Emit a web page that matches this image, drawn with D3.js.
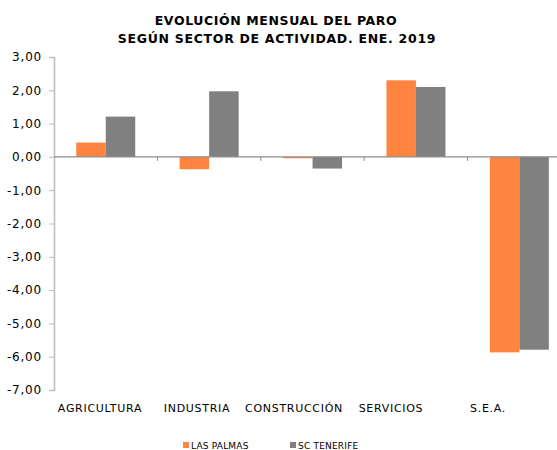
<!DOCTYPE html>
<html>
<head>
<meta charset="utf-8">
<script src="https://cdn.jsdelivr.net/npm/d3@7"></script>
<style>
  body { margin: 0; background: #fff; }
  svg text { font-family: "DejaVu Sans", Verdana, sans-serif; fill: #000; }
</style>
</head>
<body>
<svg id="chart" width="557" height="450"></svg>
<script>
const categories = ['AGRICULTURA', 'INDUSTRIA', 'CONSTRUCCIÓN', 'SERVICIOS', 'S.E.A.'];
const series = ['LAS PALMAS', 'SC TENERIFE'];
const lasPalmas = [0.43, -0.37, -0.04, 2.30, -5.87];
const scTenerife = [1.21, 1.97, -0.35, 2.10, -5.79];
const yTicks = [3, 2, 1, 0, -1, -2, -3, -4, -5, -6, -7];
const colors = ['#ff8440', '#808080'];

const values = [lasPalmas, scTenerife];
const svg = d3.select('svg#chart');

const locale = d3.formatLocale({decimal: ',', thousands: '.', grouping: [3], currency: ['', '€'], minus: '-'});
const fmt = locale.format('.2f');

const y = d3.scaleLinear()
    .domain([-7, 3])
    .range([390, 57]);

const x = d3.scaleBand()
    .domain(categories)
    .range([54, 571]);

const x1 = d3.scaleBand()
    .domain(series)
    .range([22.25, 81.25]);

// labels in the reference sit on a slightly tighter pitch than the bands
const xLabel = d3.scalePoint()
    .domain(categories)
    .range([100, 488]);

// title
svg.append('text')
    .attr('x', 276)
    .attr('y', 25)
    .attr('text-anchor', 'middle')
    .style('font-size', '12.5px')
    .style('font-weight', 'bold')
    .style('letter-spacing', '0.6px')
    .text('EVOLUCIÓN MENSUAL DEL PARO');
svg.append('text')
    .attr('x', 277)
    .attr('y', 43)
    .attr('text-anchor', 'middle')
    .style('font-size', '12.5px')
    .style('font-weight', 'bold')
    .style('letter-spacing', '0.7px')
    .text('SEGÚN SECTOR DE ACTIVIDAD. ENE. 2019');

// y axis
const yAxis = svg.append('g')
    .attr('transform', 'translate(54,0)')
    .call(d3.axisLeft(y)
        .tickValues(yTicks)
        .tickFormat(fmt)
        .tickSize(5)
        .tickPadding(7));
yAxis.select('.domain').attr('stroke', '#bdbdbd').attr('stroke-width', 1.5);
yAxis.selectAll('.tick line').attr('stroke', '#bdbdbd');
yAxis.selectAll('.tick text')
    .style('font-size', '12px')
    .style('letter-spacing', '0.8px')
    .style('font-family', '"DejaVu Sans", Verdana, sans-serif')
    .attr('fill', '#000');

// bars
const g = svg.append('g');
categories.forEach((c, i) => {
    series.forEach((s, j) => {
        const v = values[j][i];
        g.append('rect')
            .attr('x', x(c) + x1(s))
            .attr('y', y(Math.max(0, v)))
            .attr('width', x1.bandwidth())
            .attr('height', Math.abs(y(v) - y(0)))
            .attr('fill', colors[j]);
    });
});

// zero line with category tick marks
svg.append('line')
    .attr('x1', 54).attr('x2', 557)
    .attr('y1', y(0)).attr('y2', y(0))
    .attr('stroke', '#8c8c8c')
    .attr('stroke-width', 1.2);
svg.append('g')
    .selectAll('line')
    .data(categories.slice(1))
    .join('line')
    .attr('x1', d => x(d)).attr('x2', d => x(d))
    .attr('y1', y(0)).attr('y2', y(0) + 4)
    .attr('stroke', '#8c8c8c');

// category labels
svg.append('g')
    .selectAll('text')
    .data(categories)
    .join('text')
    .attr('x', d => xLabel(d))
    .attr('y', 412)
    .attr('text-anchor', 'middle')
    .style('font-size', '11px')
    .style('letter-spacing', '0.7px')
    .text(d => d);

// legend
const legendX = [183, 290];
const legend = svg.append('g');
series.forEach((s, j) => {
    legend.append('rect')
        .attr('x', legendX[j])
        .attr('y', 442)
        .attr('width', 6)
        .attr('height', 6)
        .attr('fill', colors[j]);
    legend.append('text')
        .attr('x', legendX[j] + 8)
        .attr('y', 449)
        .style('font-size', '9px')
        .style('letter-spacing', '0.2px')
        .text(s);
});
</script>
</body>
</html>
